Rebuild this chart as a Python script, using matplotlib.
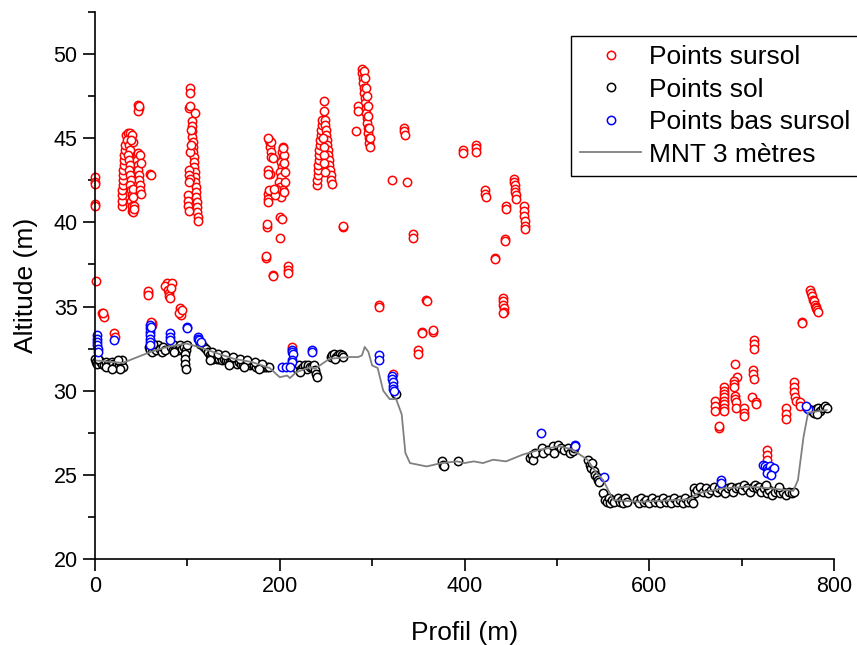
import numpy as np
import matplotlib
matplotlib.use("Agg")
import matplotlib.pyplot as plt
from matplotlib.ticker import MultipleLocator

plt.rcParams['font.family'] = ['Liberation Sans', 'DejaVu Sans']

# points sursol (rouge)
sursol_pts = [
    (0, 42.7), (0.5, 42.4), (0.5, 42.3), (0, 41.1), (0.5, 41.0), (1, 36.5),
    (8, 34.6), (9, 34.5), (10, 34.4), (9, 34.6), (21, 33.4), (21.5, 33.2),
    (29, 41.0), (29, 41.3), (29.5, 41.6), (29.5, 41.9), (30, 42.2), (30, 42.5), (30.5, 42.8),
    (30.5, 43.1), (31, 43.4), (31, 43.7), (31.5, 44.0), (32, 44.3), (32.5, 44.6),
    (34, 45.2), (36, 45.3), (38, 45.3), (40, 45.2), (35, 44.9), (37, 44.6), (38, 44.3),
    (36, 44.0), (37, 43.7), (38, 43.4), (37, 43.1), (38, 42.8), (39, 42.5), (38, 42.2),
    (39, 41.9), (40, 41.6), (39, 41.3), (40, 41.0), (40.5, 40.7), (41, 40.6), (41, 44.8),
    (39, 44.9), (41, 42.0), (41.5, 41.5), (42, 41.0), (42, 40.8),
    (46, 44.0), (46, 43.7), (47, 43.4), (47, 43.1), (48, 42.8), (48, 42.5), (49, 42.2),
    (49, 41.9), (50, 41.7), (47, 44.1), (49, 44.0), (50, 43.5),
    (60, 42.9), (61, 42.8), (47, 47.0), (47.5, 46.8), (47, 46.6), (48, 46.9),
    (102.8, 48.0), (102.5, 47.7), (102, 46.8), (103, 46.9), (108, 46.5),
    (105, 46.0), (105, 45.7), (105.5, 45.4), (105.5, 45.1), (106, 44.8), (106, 44.5),
    (106.5, 44.2), (107, 43.9), (107, 43.6), (107.5, 43.3), (108, 43.0), (108, 42.7),
    (108.5, 42.4), (109, 42.1), (109, 41.8), (109.5, 41.5), (110, 41.2), (110, 40.9),
    (110.5, 40.6), (111, 40.3), (111, 40.1), (103, 44.2), (104, 44.6), (104, 45.5),
    (102, 43.1), (102, 42.8), (102.5, 42.6), (102, 42.4),
    (101, 41.6), (101, 41.3), (101, 41.0), (101.5, 40.7),
    (188, 44.9), (189, 44.7), (189, 44.5), (190, 44.2), (191, 43.9), (190, 44.8), (187, 45.0),
    (193, 43.8), (189, 42.9), (187, 43.1), (187.5, 42.9),
    (187, 41.7), (187, 41.4), (187.5, 41.2), (188, 41.9),
    (203, 44.5), (202, 44.2), (203, 43.9), (201, 43.6), (202, 43.3), (200, 43.0), (201, 42.7),
    (199, 42.4), (200, 42.1), (199, 41.8), (201, 41.5), (205, 44.0), (205, 43.5), (206, 43.0),
    (206, 42.4), (204, 41.9), (196, 42.0), (195, 41.6), (194, 42.0), (204, 44.4), (205, 41.8),
    (186, 39.7), (186.5, 39.9), (200, 40.3), (202, 40.2), (200, 39.1), (185, 37.9),
    (185.5, 38.0), (193, 36.9), (193, 36.8), (209, 37.4), (209, 37.2), (209, 37.0),
    (240, 42.2), (240.5, 42.5), (241, 42.8), (241, 43.1), (241.5, 43.4), (242, 43.7),
    (242.5, 44.0), (243, 44.3), (243.5, 44.6), (244, 44.9), (244.5, 45.2), (245, 45.5),
    (245.5, 45.8), (246, 46.1),
    (248, 47.2), (248, 46.6), (249, 46.1), (249.5, 45.8), (250, 45.5), (250.5, 45.2),
    (251, 44.9), (251.5, 44.6), (252, 44.3), (252.5, 44.0), (253, 43.7), (253.5, 43.4),
    (254, 43.1), (255, 42.8), (256, 42.5), (257, 42.3), (247, 45.0), (247.5, 44.5),
    (248, 44.0), (248, 43.5), (249, 43.0), (268, 39.7), (268.5, 39.8),
    (289, 49.1), (289.5, 48.9), (290, 48.6), (290.5, 48.3), (291, 48.0), (291.5, 47.7),
    (292, 47.4), (292.5, 47.1), (293, 46.8), (293.5, 46.5), (294, 46.2), (294.5, 45.9),
    (295, 45.6), (296, 45.3), (296.5, 45.0), (297, 44.7), (297.5, 44.5), (291, 49.0),
    (292, 48.6), (293, 48.0), (294, 47.5), (295, 46.9), (296, 46.3), (297, 45.6), (298, 45.0),
    (285, 46.9), (285, 46.6), (283, 45.4),
    (307, 35.1), (307, 35.0), (321, 42.5), (338, 42.4), (335, 45.6), (335, 45.4),
    (335.5, 45.2), (344, 39.3), (344, 39.1), (358, 35.4), (359, 35.3), (354, 33.5),
    (354, 33.4), (366, 33.5), (366, 33.6), (350, 32.4), (350, 32.2), (323, 31.0),
    (398, 44.3), (398, 44.1), (412, 44.6), (412, 44.4), (412, 44.2), (422, 41.9),
    (422, 41.7), (423, 41.5), (445, 41.0), (445, 40.8), (454, 42.6), (454, 42.4),
    (454.5, 42.2), (455, 42.0), (455, 41.8), (455.5, 41.6), (456, 41.4), (464, 41.0),
    (464, 40.7), (464.5, 40.4), (465, 40.1), (465, 39.8), (465.5, 39.6), (444, 39.0),
    (444, 38.9), (433, 37.9), (433, 37.85), (442, 35.5), (442, 35.3), (442, 35.1),
    (442.5, 34.9), (442.5, 34.7), (442, 34.6), (213, 32.5), (213, 32.6),
    (57, 35.8), (57.5, 35.9), (57, 35.7), (78, 36.4), (76, 36.2), (79, 36.0), (80, 35.8),
    (80, 35.6), (81, 35.5), (83, 36.4), (82, 36.1), (92, 34.9), (92, 34.7), (93, 34.5),
    (91, 34.6), (94, 34.8), (62, 34.0), (62, 33.9), (61, 34.1),
    (774, 36.0), (775, 35.8), (776, 35.6), (777, 35.4), (778, 35.3), (779, 35.1),
    (780, 35.0), (781, 34.9), (782, 34.8), (783, 34.7), (765, 34.1), (765, 34.0),
    (713, 33.0), (713, 32.8), (713, 32.5), (693, 31.6), (695, 30.8), (692, 30.6),
    (692, 30.4), (692, 30.2), (712, 31.2), (712, 31.0), (713, 30.7),
    (681, 30.2), (681, 30.0), (681, 29.8), (681, 29.6), (681, 29.4), (681, 29.2),
    (681, 29.0), (681, 28.8), (671, 29.4), (671, 29.1), (671, 28.8), (693, 29.7),
    (693, 29.5), (694, 29.3), (694, 29.0), (703, 29.0), (703, 28.7), (703, 28.5),
    (675, 27.8), (675, 27.9), (711, 29.6), (716, 29.3), (716, 29.2),
    (757, 30.5), (757, 30.2), (757, 29.9), (758, 29.6), (759, 29.4), (763, 29.3),
    (763, 29.1), (748, 29.0), (748, 28.6), (748, 28.3), (727, 26.5), (727, 26.2), (727, 25.9),
]

# points sol (noir)
sol_pts = [
    (0, 31.9), (1, 31.7), (2, 31.6), (4, 31.8), (6, 31.7), (8, 31.6), (10, 31.5), (12, 31.7),
    (14, 31.6), (16, 31.5), (18, 31.7), (20, 31.6), (22, 31.4), (24, 31.6), (26, 31.5),
    (28, 31.6), (30, 31.4), (29, 31.8), (27, 31.3), (25, 31.8), (3, 31.9), (12, 31.4), (18, 31.3),
    (58, 32.6), (60, 32.4), (62, 32.3), (64, 32.6), (66, 32.4), (68, 32.7), (70, 32.5),
    (72, 32.3), (74, 32.6), (76, 32.4), (63, 32.8),
    (82, 32.6), (84, 32.4), (86, 32.7), (88, 32.5), (90, 32.4), (92, 32.7), (94, 32.5),
    (96, 32.6), (98, 32.4), (100, 32.7), (85, 32.3),
    (97, 32.2), (97, 31.9), (97.5, 31.6), (98, 31.3),
    (114, 32.8), (116, 32.7), (118, 32.6), (120, 32.5), (122, 32.3), (124, 32.1), (126, 32.0),
    (128, 31.9), (130, 32.0), (132, 31.9), (134, 31.9), (136, 32.0), (138, 31.8), (140, 31.9),
    (142, 31.8), (144, 31.8), (146, 31.7), (148, 31.8), (150, 31.7), (152, 31.7), (154, 31.6),
    (156, 31.7), (158, 31.6), (160, 31.6), (162, 31.7), (164, 31.5), (166, 31.6), (168, 31.5),
    (170, 31.6), (172, 31.5), (174, 31.4), (176, 31.5), (178, 31.4), (180, 31.5), (182, 31.4),
    (184, 31.4), (186, 31.4), (188, 31.4), (127, 32.3), (133, 32.2), (141, 32.1), (149, 32.0),
    (157, 31.9), (165, 31.8), (173, 31.7), (181, 31.6), (125, 31.8), (145, 31.5), (161, 31.4),
    (177, 31.3),
    (219, 31.3), (221, 31.5), (223, 31.3), (225, 31.4), (227, 31.5), (229, 31.3), (231, 31.5),
    (233, 31.4), (235, 31.4), (237, 31.5), (238, 31.2), (239, 31.0), (240, 30.8), (222, 31.1),
    (255, 32.0), (257, 32.1), (259, 32.2), (261, 32.0), (263, 32.1), (265, 32.2), (267, 32.1),
    (269, 32.0), (260, 31.9),
    (325, 29.85), (326, 29.8), (376, 25.8), (377, 25.6), (378, 25.5), (393, 25.8),
    (471, 26.0), (473, 26.2), (474, 25.9), (476, 26.3), (484, 26.6), (485, 26.3), (490, 26.5),
    (496, 26.7), (497, 26.3), (501, 26.8), (504, 26.6), (508, 26.5), (512, 26.6), (514, 26.3),
    (517, 26.4), (519, 26.6),
    (534, 25.9), (536, 25.6), (537, 25.4), (538, 25.7), (540, 25.2), (541, 25.0), (543, 24.9),
    (545, 24.7), (546, 24.6),
    (550, 23.9), (552, 23.5), (554, 23.4), (556, 23.6), (558, 23.3), (560, 23.5), (562, 23.4),
    (566, 23.6), (568, 23.4), (570, 23.5), (572, 23.3), (574, 23.6), (576, 23.4),
    (587, 23.5), (589, 23.3), (591, 23.6), (594, 23.4), (597, 23.5), (600, 23.3), (603, 23.6),
    (606, 23.4), (609, 23.5), (612, 23.3), (615, 23.6), (618, 23.4), (621, 23.5), (624, 23.3),
    (627, 23.6), (630, 23.4), (633, 23.5), (636, 23.3), (639, 23.6), (642, 23.4), (645, 23.5),
    (647, 23.3),
    (648, 24.2), (650, 23.9), (652, 24.1), (655, 24.3), (658, 24.0), (661, 24.2), (664, 23.9),
    (667, 24.1), (670, 24.3), (673, 24.0), (676, 24.2), (679, 24.1), (682, 23.9), (685, 24.2),
    (688, 24.3), (691, 24.0), (694, 24.2), (697, 24.3), (700, 24.1), (703, 24.4), (706, 24.2),
    (709, 24.0), (712, 24.3), (715, 24.4), (717, 24.2),
    (719, 24.3), (721, 24.0), (724, 24.2), (727, 23.9), (730, 24.1), (733, 23.8), (736, 24.0),
    (739, 24.1), (742, 23.9), (745, 24.0), (748, 23.8), (751, 24.0), (754, 23.9), (757, 24.0),
    (740, 24.3), (726, 24.4),
    (773, 28.9), (776, 28.8), (778, 28.7), (780, 28.9), (783, 29.0), (785, 28.8), (788, 29.0),
    (790, 29.1), (792, 29.0), (782, 28.6),
]

# points bas sursol (bleu)
bas_pts = [
    (2, 33.3), (2, 33.1), (2.5, 32.9), (2, 32.7), (3, 32.5), (3, 32.3), (20.6, 33.0),
    (60, 33.9), (60, 33.7), (60, 33.5), (59.5, 33.3), (60, 33.1), (59.5, 32.9), (60, 32.7),
    (61, 33.8), (81, 33.4), (81, 33.2), (81, 33.0), (100, 33.8), (100, 33.7),
    (111, 33.2), (112, 33.1), (113, 33.0), (115, 32.9),
    (213, 32.4), (213, 32.3), (214, 32.2), (213, 31.8), (213, 31.7), (202, 31.4), (207, 31.4),
    (211, 31.4), (235, 32.4), (235, 32.3), (307, 32.1), (307, 31.8),
    (322, 30.9), (322, 30.7), (322.5, 30.5), (323, 30.3), (323, 30.1), (323.5, 30.0),
    (483, 27.5), (520, 26.8), (520, 26.7), (551, 24.9), (678, 24.7), (678, 24.5),
    (723, 25.6), (725, 25.5), (727, 25.4), (729, 25.3), (731, 25.5), (733, 25.3), (735, 25.4),
    (728, 25.1), (732, 25.0), (771, 29.0), (772, 28.9), (770, 29.1),
]

# MNT 3 metres
mnt_x = [0, 30, 60, 78, 99, 112, 128, 150, 170, 189, 200, 208, 211, 218, 233, 238, 254,
         276, 285, 289, 292, 296, 300, 306, 312, 319, 326, 332, 336, 341, 359, 375, 392,
         400, 410, 420, 431, 445, 463, 482, 503, 517, 533, 543, 550, 561, 590, 644, 652,
         680, 709, 731, 756, 761, 767, 772, 792]
mnt_y = [31.8, 31.65, 32.3, 32.6, 32.8, 32.6, 32.3, 31.9, 31.7, 31.35, 30.8, 30.9, 30.75,
         31.1, 31.4, 31.3, 31.9, 32.0, 32.0, 32.1, 32.6, 32.3, 31.5, 31.35, 30.0, 29.5, 29.5,
         28.6, 26.3, 25.7, 25.5, 25.7, 25.8, 25.7, 25.8, 25.7, 25.9, 25.8, 26.2, 26.5, 26.7,
         26.5, 25.9, 25.1, 24.7, 23.5, 23.4, 23.55, 23.9, 24.2, 24.3, 24.2, 24.05, 24.7,
         27.25, 28.7, 28.85]

fig = plt.figure(figsize=(8.57, 6.45), dpi=100)
ax = fig.add_axes([95/857, 86/645, 739/857, 547/645])

mk = dict(linestyle='none', marker='o', markersize=6, markerfacecolor='white',
          markeredgewidth=1.1, clip_on=False)
sx, sy = zip(*sursol_pts)
ax.plot(sx, sy, markeredgecolor='#ff0000', label='Points sursol', **mk)
gx, gy = zip(*sol_pts)
ax.plot(gx, gy, markeredgecolor='black', label='Points sol', **mk)
bx, by = zip(*bas_pts)
ax.plot(bx, by, markeredgecolor='#0000ff', label='Points bas sursol', **mk)
ax.plot(mnt_x, mnt_y, color='#808080', lw=1.3, label='MNT 3 mètres')

ax.set_xlim(0, 800)
ax.set_ylim(20, 52.5)
ax.xaxis.set_major_locator(MultipleLocator(200))
ax.xaxis.set_minor_locator(MultipleLocator(100))
ax.yaxis.set_major_locator(MultipleLocator(5))
ax.yaxis.set_minor_locator(MultipleLocator(2.5))
for s in ['top', 'right']:
    ax.spines[s].set_visible(False)
for s in ['left', 'bottom']:
    ax.spines[s].set_linewidth(1.2)
ax.tick_params(which='major', direction='out', length=8.5, width=1.2, labelsize=15.5, pad=4)
ax.tick_params(which='minor', direction='out', length=5, width=1.2)

ax.set_xlabel('Profil (m)', fontsize=19, labelpad=17)
ax.set_ylabel('Altitude (m)', fontsize=19, labelpad=11)

leg = ax.legend(loc='upper left', bbox_to_anchor=(571/857, 1 - 36/645),
                bbox_transform=fig.transFigure, fontsize=19, frameon=True,
                fancybox=False, edgecolor='black', framealpha=1, borderaxespad=0,
                handlelength=2.3, handletextpad=0.3, labelspacing=0.32, borderpad=0.35)
leg.get_frame().set_linewidth(1.0)

fig.savefig('out.png', dpi=100)
